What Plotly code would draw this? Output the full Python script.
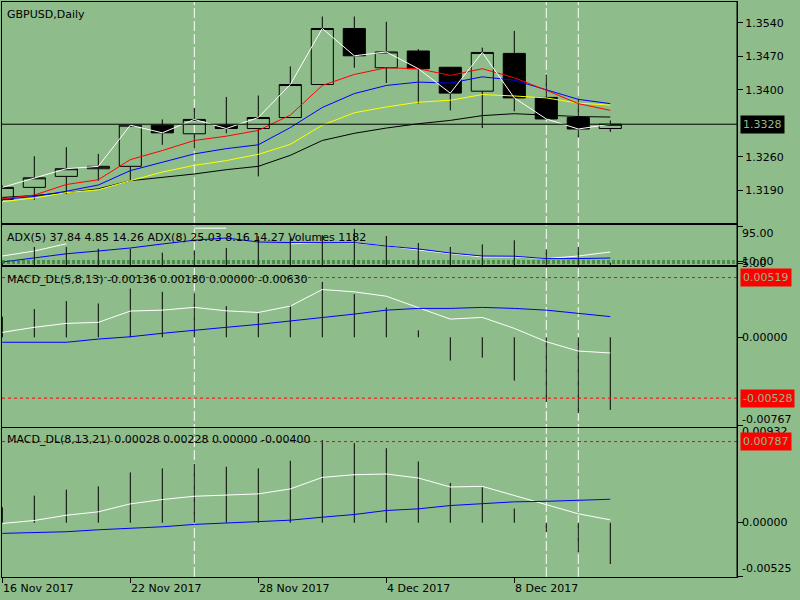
import plotly.graph_objects as go

BG = "#8FBC8B"
FONT = "DejaVu Sans"

# ── Data ─────────────────────────────────────────────────────────────────────

dates = ["16 Nov 2017", "17 Nov 2017", "20 Nov 2017", "21 Nov 2017", "22 Nov 2017",
         "23 Nov 2017", "24 Nov 2017", "27 Nov 2017", "28 Nov 2017", "29 Nov 2017",
         "30 Nov 2017", "1 Dec 2017", "4 Dec 2017", "5 Dec 2017", "6 Dec 2017",
         "7 Dec 2017", "8 Dec 2017", "11 Dec 2017", "12 Dec 2017", "13 Dec 2017"]
date_ticks = ["16 Nov 2017", "22 Nov 2017", "28 Nov 2017", "4 Dec 2017", "8 Dec 2017"]
separators = ["24 Nov 2017", "11 Dec 2017", "12 Dec 2017"]

open_ = [1.3171, 1.3196, 1.3219, 1.3235, 1.3240, 1.3326, 1.3308, 1.3326, 1.3319, 1.3342,
         1.3411, 1.3528, 1.3446, 1.3481, 1.3447, 1.3397, 1.3476, 1.3384, 1.3342, 1.3319]
high = [1.3200, 1.3261, 1.3280, 1.3266, 1.3328, 1.3338, 1.3362, 1.3385, 1.3388, 1.3449,
        1.3553, 1.3553, 1.3542, 1.3485, 1.3447, 1.3488, 1.3523, 1.3432, 1.3381, 1.3336]
low = [1.3168, 1.3170, 1.3182, 1.3210, 1.3210, 1.3285, 1.3278, 1.3309, 1.3219, 1.3342,
       1.3411, 1.3446, 1.3414, 1.3371, 1.3357, 1.3320, 1.3355, 1.3339, 1.3301, 1.3312]
close = [1.3196, 1.3216, 1.3235, 1.3240, 1.3326, 1.3310, 1.3338, 1.3319, 1.3342, 1.3411,
         1.3528, 1.3471, 1.3479, 1.3444, 1.3393, 1.3478, 1.3383, 1.3339, 1.3318, 1.3328]

ma_fast = [1.3172, 1.3180, 1.3202, 1.3212, 1.3254, 1.3273, 1.3294, 1.3303, 1.3315, 1.3347,
           1.3409, 1.3432, 1.3446, 1.3444, 1.3430, 1.3444, 1.3425, 1.3399, 1.3371, 1.3357]
ma_mid = [1.3171, 1.3177, 1.3188, 1.3201, 1.3231, 1.3249, 1.3266, 1.3277, 1.3285, 1.3321,
          1.3363, 1.3392, 1.3409, 1.3416, 1.3414, 1.3427, 1.3420, 1.3400, 1.3380, 1.3371]
ma_slow = [1.3166, 1.3174, 1.3185, 1.3191, 1.3210, 1.3228, 1.3242, 1.3252, 1.3265, 1.3286,
           1.3326, 1.3352, 1.3364, 1.3374, 1.3378, 1.3390, 1.3387, 1.3383, 1.3372, 1.3368]
ma_long = [1.3175, 1.3179, 1.3185, 1.3193, 1.3210, 1.3217, 1.3224, 1.3233, 1.3240, 1.3263,
           1.3294, 1.3309, 1.3320, 1.3329, 1.3336, 1.3346, 1.3350, 1.3347, 1.3344, 1.3343]
price_ticks = [1.3540, 1.3470, 1.3400, 1.3260, 1.3190]

adx_white = [22.5, 35, 53, None, None, None, 92, 92, None, 53,
             56, 55, 48, 37.5, 28, 20, 20, 16, 22.5, 32.5]
adx_blue = [7.5, 17.5, 28, 35, 42.5, 52.5, 62, 67.5, 57.5, 56,
            56, 56, 47.5, 40, 30, 22.5, 22, 16, 16, 17.5]
volumes = [1000, 9200, 9200, 8300, 8300, 6300, 7500, 8700, 14700, 13800,
           15300, 18400, 14800, 11200, 9200, 10500, 12600, 8000, 9200, 1182]
adx_levels = [10, 5]
adx_top_label = 95

macd1_main = [0.00043, 0.00087, 0.00121, 0.00130, 0.00228, 0.00236, 0.00260, 0.00230, 0.00216, 0.00271,
              0.00415, 0.00395, 0.00357, 0.00260, 0.00158, 0.00173, 0.00078, -0.00038, -0.00119, -0.00136]
macd1_signal = [-0.00043, -0.00043, -0.00043, -0.00015, 0.00005, 0.00035, 0.00063, 0.00087, 0.00112, 0.00141,
                0.00173, 0.00202, 0.00236, 0.00251, 0.00251, 0.00260, 0.00251, 0.00236, 0.00208, 0.00180]
macd1_hist = [0.00180, 0.00245, 0.00314, 0.00294, 0.00424, 0.00395, 0.00381, 0.00271, 0.00208, 0.00279,
              0.00481, 0.00375, 0.00260, 0.00061, -0.00202, -0.00177, -0.00376, -0.00562, -0.00658, -0.00630]
macd1_levels = [0.00519, -0.00528]
macd1_min = -0.00767

macd2_main = [-0.00007, 0.00022, 0.00073, 0.00106, 0.00183, 0.00225, 0.00257, 0.00266, 0.00280, 0.00328,
              0.00440, 0.00466, 0.00473, 0.00434, 0.00347, 0.00353, 0.00266, 0.00177, 0.00087, 0.00028]
macd2_signal = [-0.00103, -0.00096, -0.00087, -0.00068, -0.00055, -0.00039, -0.00016, -0.00004, 0.00015, 0.00025,
                0.00054, 0.00080, 0.00119, 0.00135, 0.00167, 0.00186, 0.00203, 0.00208, 0.00218, 0.00228]
macd2_hist = [0.00150, 0.00263, 0.00321, 0.00353, 0.00488, 0.00527, 0.00572, 0.00543, 0.00527, 0.00601,
              0.00803, 0.00772, 0.00723, 0.00594, 0.00386, 0.00343, 0.00138, -0.00091, -0.00284, -0.00400]
macd2_levels = [0.00787]
macd2_max, macd2_min = 0.00932, -0.00525

x = list(range(len(dates)))


def sticks(values, xaxis, yaxis):
    """One-pixel histogram sticks from zero to each value (MT4 style)."""
    return go.Scatter(
        x=x, y=[v / 2 for v in values], mode="markers", marker=dict(size=0, opacity=0),
        error_y=dict(type="data", array=[abs(v) / 2 for v in values], symmetric=True,
                     color="black", thickness=1, width=0),
        xaxis=xaxis, yaxis=yaxis, showlegend=False,
    )


# ── Traces ───────────────────────────────────────────────────────────────────

fig = go.Figure()

fig.add_trace(go.Candlestick(
    x=x, open=open_, high=high, low=low, close=close,
    increasing=dict(line=dict(color="black", width=1), fillcolor="rgba(0,0,0,0)"),
    decreasing=dict(line=dict(color="black", width=1), fillcolor="black"),
    whiskerwidth=0, xaxis="x", yaxis="y", showlegend=False,
))
for series, color in ((ma_long, "black"), (ma_slow, "#FFFF00"), (ma_mid, "#0000FF"),
                      (ma_fast, "#FF0000"), (close, "#FFFFFF")):
    fig.add_trace(go.Scatter(x=x, y=series, mode="lines", line=dict(color=color, width=1),
                             xaxis="x", yaxis="y", showlegend=False))

fig.add_trace(go.Scatter(x=x, y=adx_white, mode="lines", line=dict(color="#FFFFFF", width=1),
                         xaxis="x2", yaxis="y2", showlegend=False))
fig.add_trace(go.Scatter(x=x, y=adx_blue, mode="lines", line=dict(color="#0000FF", width=1),
                         xaxis="x2", yaxis="y2", showlegend=False))
fig.add_trace(sticks(volumes, "x2", "y5"))

for n, (main, signal, hist) in ((3, (macd1_main, macd1_signal, macd1_hist)),
                                (4, (macd2_main, macd2_signal, macd2_hist))):
    fig.add_trace(sticks(hist, f"x{n}", f"y{n}"))
    fig.add_trace(go.Scatter(x=x, y=main, mode="lines", line=dict(color="#FFFFFF", width=1),
                             xaxis=f"x{n}", yaxis=f"y{n}", showlegend=False))
    fig.add_trace(go.Scatter(x=x, y=signal, mode="lines", line=dict(color="#0000FF", width=1),
                             xaxis=f"x{n}", yaxis=f"y{n}", showlegend=False))

# ── Shapes ───────────────────────────────────────────────────────────────────

shapes = []
for d in separators:
    i = dates.index(d)
    shapes.append(dict(type="line", xref="x", yref="paper", x0=i, x1=i, y0=0, y1=1,
                       line=dict(color="#FFFFFF", width=1, dash="10px,3px"), layer="below"))
shapes.append(dict(type="line", xref="x domain", yref="y", x0=0, x1=1, y0=close[-1], y1=close[-1],
                   line=dict(color="black", width=1)))
for lv in adx_levels:
    shapes.append(dict(type="line", xref="x2 domain", yref="y2", x0=0, x1=1, y0=lv, y1=lv,
                       line=dict(color="#006400", width=1, dash="3px,2px")))
for n, levels in ((3, macd1_levels), (4, macd2_levels)):
    for lv in levels:
        shapes.append(dict(type="line", xref=f"x{n} domain", yref=f"y{n}", x0=0, x1=1, y0=lv, y1=lv,
                           line=dict(color="#FF0000", width=1, dash="3px,3px")))
# one continuous price-scale line down the right edge
shapes.append(dict(type="line", xref="paper", yref="paper", x0=1, x1=1, y0=0, y1=1,
                   line=dict(color="black", width=1)))

# ── Annotations ──────────────────────────────────────────────────────────────

ann = []


def title(text, yref, yshift):
    ann.append(dict(text=text, xref="paper", x=0, xanchor="left", xshift=3,
                    yref=yref, y=1, yanchor="top", yshift=yshift, showarrow=False))


def right_label(text, yref, y, yshift=0, bg=None):
    a = dict(text=text, xref="paper", x=1, xanchor="left", xshift=3, yref=yref, y=y,
             yanchor="middle", yshift=yshift, showarrow=False, borderpad=1)
    if bg:
        a.update(bgcolor=bg, font=dict(color=BG), borderpad=2)
    ann.append(a)


title("GBPUSD,Daily", "y domain", -4)
title("ADX(5) 37.84 4.85 14.26 ADX(8) 25.03 8.16 14.27 Volumes 1182", "y2 domain", -4)
title("MACD_DL(5,8,13) -0.00136 0.00180 0.00000 -0.00630", "y3 domain", -4)
title("MACD_DL(8,13,21) 0.00028 0.00228 0.00000 -0.00400", "y4 domain", -3)

right_label(f"{close[-1]:.4f}", "y", close[-1], bg="black")
right_label(f"{adx_top_label:.2f}", "y2", adx_top_label, yshift=-7)
for lv in adx_levels:
    right_label(f"{lv:.2f}", "y2", lv)
right_label(f"{macd1_min:.5f}", "y3", macd1_min, yshift=6)
right_label(f"{macd2_max:.5f}", "y4 domain", 1, yshift=-3)
right_label(f"{macd1_levels[0]:.5f}", "y3", macd1_levels[0], bg="#FF0000")
right_label(f"{0:.5f}", "y3", 0)
right_label(f"{macd1_levels[1]:.5f}", "y3", macd1_levels[1], bg="#FF0000")
right_label(f"{macd2_levels[0]:.5f}", "y4", macd2_levels[0], bg="#FF0000")
right_label(f"{0:.5f}", "y4", 0)
right_label(f"{macd2_min:.5f}", "y4", macd2_min, yshift=8)

for d in date_ticks:
    ann.append(dict(text=d, xref="x4", x=dates.index(d), xanchor="left", xshift=-1,
                    yref="paper", y=0, yanchor="top", yshift=-3, showarrow=False))

# ── Layout ───────────────────────────────────────────────────────────────────

common_x = dict(range=[-0.01, 22.96], showline=True, mirror=True, linecolor="black", linewidth=1,
                showgrid=False, zeroline=False, showticklabels=False, ticks="", automargin=False)
common_y = dict(side="right", showline=True, mirror=True, linecolor="black", linewidth=1,
                showgrid=False, zeroline=False, ticks="outside", ticklen=5, tickcolor="black",
                automargin=False)

fig.update_layout(
    template="none",
    width=800, height=600,
    margin=dict(l=2, r=63, t=2, b=23),
    paper_bgcolor=BG, plot_bgcolor=BG,
    font=dict(family=FONT, size=11, color="black"),
    showlegend=False,
    hovermode=False,
    boxgap=0.31, boxgroupgap=0,
    xaxis=dict(common_x, anchor="y", rangeslider=dict(visible=False)),
    xaxis2=dict(common_x, anchor="y2", matches="x"),
    xaxis3=dict(common_x, anchor="y3", matches="x"),
    xaxis4=dict(common_x, anchor="y4", matches="x", ticks="outside", ticklen=5, tickcolor="black",
                tickvals=[dates.index(d) for d in date_ticks]),
    yaxis=dict(common_y, domain=[0.615, 1.0], range=[1.31208, 1.35834], anchor="x",
               tickvals=price_ticks, tickformat=".4f"),
    yaxis2=dict(common_y, domain=[0.5426, 0.6122], range=[0, 100], anchor="x2",
                tickvals=[adx_top_label] + adx_levels, showticklabels=False),
    yaxis5=dict(overlaying="y2", anchor="x2", range=[0, 20400], visible=False),
    yaxis3=dict(common_y, domain=[0.2614, 0.5386], range=[-0.00776, 0.00608], anchor="x3",
                tickvals=[0, macd1_min], showticklabels=False),
    yaxis4=dict(common_y, domain=[0.0, 0.2586], range=[-0.00526, 0.00916], anchor="x4",
                tickvals=[0, macd2_min], showticklabels=False),
    shapes=shapes,
    annotations=ann,
)

# the page's default 8px body margin would push the figure off the 800x600 window
fig.write_html("out.html", config={"displayModeBar": False},
               post_script="document.body.style.margin='0';document.body.style.overflow='hidden';")
